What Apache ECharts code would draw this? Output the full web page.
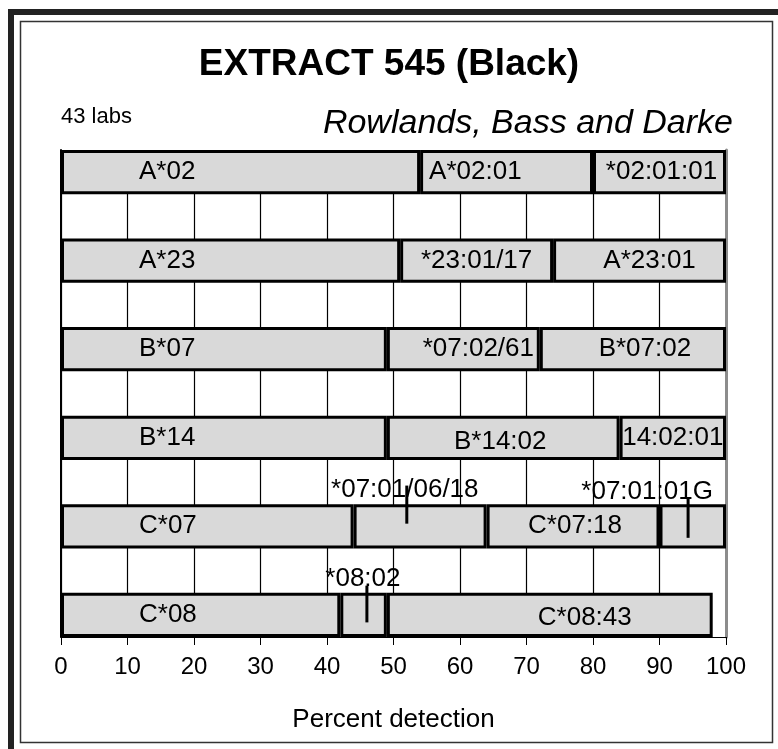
<!DOCTYPE html>
<html>
<head>
<meta charset="utf-8">
<script src="https://cdn.jsdelivr.net/npm/echarts@6/dist/echarts.min.js"></script>
<style>
  html, body { margin: 0; padding: 0; background: #fff; }
  #chart { width: 778px; height: 749px; }
</style>
</head>
<body>
<div id="chart"></div>
<script>
// one row per typing locus, segments are percent of labs
const rows = ['A*02', 'A*23', 'B*07', 'B*14', 'C*07', 'C*08'];
const segments = [
  [54, 26, 20],
  [51, 23, 26],
  [49, 23, 28],
  [49, 35, 16],
  [44, 20, 26, 10],
  [42, 7, 49]
];
const segLabels = [
  ['A*02', 'A*02:01', '*02:01:01'],
  ['A*23', '*23:01/17', 'A*23:01'],
  ['B*07', '*07:02/61', 'B*07:02'],
  ['B*14', 'B*14:02', '14:02:01'],
  ['C*07', '', 'C*07:18', ''],
  ['C*08', '', 'C*08:43']
];
// sub-allele markers drawn as ticks above the bars
const markRows = ['C*07', 'C*07', 'C*08'];
const markValues = [52, 94.3, 46];
const markLabels = ['*07:01/06/18', '*07:01:01G', '*08:02'];
const xTicks = [0, 10, 20, 30, 40, 50, 60, 70, 80, 90, 100];

// layout only: label nudges [dx, dy] for each segment label
const labelShift = [
  [[0, 0], [0, 0], [2, 0]],
  [[0, 0], [0, 0], [10, 0]],
  [[0, 0], [15, 0], [12, 0]],
  [[0, 0], [-3, 4], [0, 0]],
  [[0, 0], [0, 0], [2, 0], [0, 0]],
  [[0, 0], [0, 0], [35, 3]]
];
// marker line span (fraction of band, from band centre) and label spot
const markLayout = [
  { top: -0.92, bot: -0.06, dx: -2, ty: -0.83 },
  { top: -0.62, bot: 0.26, dx: -41, ty: -0.78 },
  { top: -0.66, bot: 0.17, dx: -4, ty: -0.82 }
];

// bar rows interleaved with empty gap rows
const yCats = [];
rows.forEach((r, i) => {
  yCats.push(r);
  if (i < rows.length - 1) yCats.push('gap' + i);
});

const FONT = '"Liberation Sans", Arial, sans-serif';
const nSeg = Math.max(...segments.map(s => s.length));

const barSeries = [];
for (let s = 0; s < nSeg; s++) {
  barSeries.push({
    type: 'bar',
    stack: 'row',
    barCategoryGap: 0,
    yAxisIndex: 0,
    itemStyle: { color: '#d9d9d9', borderColor: '#000', borderWidth: 3 },
    data: yCats.map(c => {
      const r = rows.indexOf(c);
      if (r < 0 || segments[r][s] == null) return '-';
      const sh = labelShift[r][s];
      let label;
      if (s === 0) label = { position: 'insideLeft', distance: 78 };
      else if (r === 0 && s === 1) label = { position: 'insideLeft', distance: 9 };
      else label = { position: 'inside', offset: sh };
      return { value: segments[r][s], label: label };
    }),
    label: {
      show: true,
      color: '#000',
      fontFamily: FONT,
      fontSize: 26,
      formatter: p => segLabels[rows.indexOf(yCats[p.dataIndex])][s]
    },
    emphasis: { disabled: true },
    animation: false
  });
}

const markSeries = {
  type: 'custom',
  yAxisIndex: 0,
  z: 5,
  data: markValues.map((v, i) => [v, yCats.indexOf(markRows[i]), i]),
  renderItem: (params, api) => {
    const i = api.value(2);
    const pt = api.coord([api.value(0), api.value(1)]);
    const band = api.size([0, 1])[1];
    const lay = markLayout[i];
    return {
      type: 'group',
      children: [
        {
          type: 'line',
          shape: { x1: pt[0], y1: pt[1] + lay.top * band, x2: pt[0], y2: pt[1] + lay.bot * band },
          style: { stroke: '#000', lineWidth: 3 }
        },
        {
          type: 'text',
          style: {
            x: pt[0] + lay.dx, y: pt[1] + lay.ty * band,
            text: markLabels[i],
            font: '26px ' + FONT,
            fill: '#000',
            align: 'center', verticalAlign: 'middle'
          }
        }
      ]
    };
  },
  animation: false
};

const chart = echarts.init(document.getElementById('chart'));
chart.setOption({
  backgroundColor: '#fff',
  title: [
    {
      text: 'EXTRACT 545 (Black)',
      left: 'center', top: 41,
      textStyle: { fontFamily: FONT, fontSize: 37, fontWeight: 'bold', color: '#000' }
    },
    {
      text: '43 labs',
      left: 56, top: 101,
      textStyle: { fontFamily: FONT, fontSize: 22, fontWeight: 'normal', color: '#000' }
    },
    {
      text: 'Rowlands, Bass and Darke',
      right: 40, top: 102,
      textStyle: { fontFamily: FONT, fontSize: 34, fontWeight: 'normal', fontStyle: 'italic', color: '#000' }
    }
  ],
  graphic: [
    { type: 'rect', shape: { x: 8, y: 9, width: 6, height: 740 }, style: { fill: '#222' } },
    { type: 'rect', shape: { x: 8, y: 9, width: 770, height: 6 }, style: { fill: '#222' } },
    { type: 'rect', shape: { x: 20.5, y: 21.5, width: 752, height: 721 }, style: { fill: 'none', stroke: '#333', lineWidth: 1.5 } }
  ],
  grid: { left: 61, right: 52, top: 150, bottom: 112 },
  xAxis: {
    type: 'value',
    min: xTicks[0], max: xTicks[xTicks.length - 1], interval: 10,
    name: 'Percent detection',
    nameLocation: 'middle',
    nameGap: 70,
    nameTextStyle: { fontFamily: FONT, fontSize: 26, color: '#000' },
    axisLine: { show: true, lineStyle: { color: '#000', width: 1 } },
    axisTick: { show: true, length: 8, lineStyle: { color: '#000', width: 1 } },
    axisLabel: { fontFamily: FONT, fontSize: 24, color: '#000', margin: 18 },
    splitLine: { show: true, lineStyle: { color: '#000', width: 1.2 } }
  },
  yAxis: [
    {
      type: 'category', inverse: true, data: yCats,
      axisLine: { show: true, lineStyle: { color: '#000', width: 2 } },
      axisTick: { show: false }, axisLabel: { show: false }, splitLine: { show: false }
    },
    {
      type: 'category', inverse: true, data: yCats, position: 'right',
      axisLine: { show: true, lineStyle: { color: '#8c8c8c', width: 3 } },
      axisTick: { show: false }, axisLabel: { show: false }, splitLine: { show: false }
    }
  ],
  series: barSeries.concat([markSeries])
});
</script>
</body>
</html>
